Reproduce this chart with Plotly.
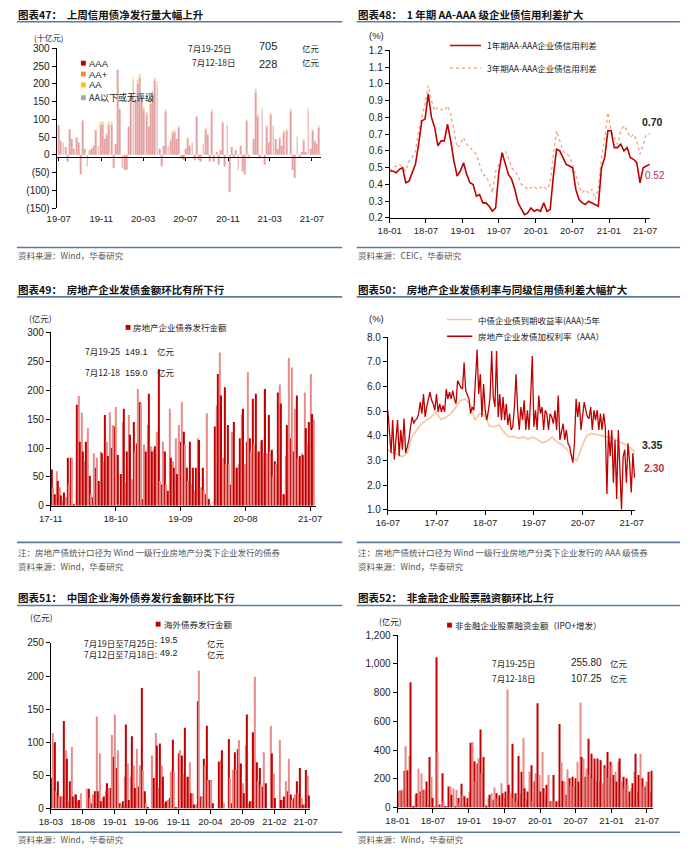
import pandas as pd
import plotly.graph_objects as go

W, H = 692, 852
def fx(x): return x / W
def fy(y): return 1 - y / H

FONT = "Liberation Sans, Arial, Noto Sans CJK SC, sans-serif"
CJK = "Noto Sans CJK SC, Liberation Sans, sans-serif"

# ---------------- data ----------------
# Chart 47: weekly net credit bond issuance (bn yuan)
aaa_47 = [85,40,35,22,-19,72,45,17,49,35,
          -55,97,17,-33,13,17,26,70,26,85,
          85,45,55,85,85,-37,31,240,130,-37,
          -42,-42,80,163,208,154,200,217,154,126,
          113,80,145,172,208,195,17,-33,26,122,
          26,40,63,63,45,76,-10,-15,17,45,
          26,35,-15,108,-15,-19,31,72,58,-19,
          122,-19,8,-28,13,90,-33,85,-105,22,
          -5,13,-42,26,-46,-55,95,-10,0,45,
          176,108,-10,126,-28,80,35,113,80,45,
          17,45,26,63,67,0,122,-42,-65,49,
          -10,8,40,8,126,17,67,40,31,76]
aa_47 = [0,0,0,0,0,0,0,0,0,0,
         0,0,0,0,0,0,0,0,0,8,
         8,0,6,8,8,0,0,0,0,0,
         0,0,0,10,12,10,12,10,10,8,
         8,0,10,10,10,12,0,0,0,6,
         0,5,6,6,0,6,0,0,0,5,
         0,0,0,0,0,0,0,5,0,0,
         6,0,0,0,0,5,0,0,0,0,
         0,0,0,0,0,0,5,0,0,0,
         10,6,0,8,0,5,0,6,5,0,
         0,5,0,5,5,0,8,0,0,5,
         0,0,5,0,8,0,5,0,0,6]
ticks_47 = ['2019-07-01','2019-11-01','2020-03-01','2020-07-01','2020-11-01','2021-03-01','2021-07-01']

# Chart 48: AA-AAA credit spreads (%)
spread_1y_48 = [0.48,0.48,0.47,0.49,0.50,0.41,0.42,0.47,0.52,0.64,
                0.78,0.79,0.94,0.80,0.74,0.63,0.66,0.66,0.76,0.66,
                0.54,0.45,0.48,0.53,0.46,0.41,0.40,0.33,0.34,0.29,
                0.29,0.27,0.24,0.26,0.47,0.59,0.52,0.46,0.43,0.37,
                0.29,0.25,0.22,0.23,0.26,0.24,0.25,0.24,0.29,0.24,
                0.25,0.45,0.61,0.60,0.56,0.52,0.51,0.50,0.37,0.31,
                0.29,0.28,0.30,0.29,0.28,0.27,0.50,0.56,0.72,0.72,
                0.62,0.62,0.64,0.60,0.62,0.56,0.55,0.53,0.41,0.50,
                0.51,0.52]
spread_3y_48 = [0.48,0.50,0.51,0.52,0.50,0.48,0.54,0.56,0.60,0.72,
                0.80,0.88,0.99,0.90,0.84,0.86,0.85,0.84,0.87,0.82,
                0.72,0.62,0.64,0.68,0.64,0.62,0.60,0.58,0.52,0.46,
                0.45,0.41,0.35,0.48,0.52,0.56,0.60,0.56,0.50,0.48,
                0.45,0.40,0.39,0.37,0.38,0.39,0.37,0.38,0.39,0.37,
                0.41,0.58,0.72,0.66,0.60,0.58,0.57,0.52,0.45,0.39,
                0.35,0.37,0.35,0.37,0.31,0.37,0.56,0.68,0.83,0.72,
                0.68,0.64,0.72,0.75,0.72,0.68,0.70,0.66,0.58,0.64,
                0.70,0.70]
ticks_48 = ['2018-01-01','2018-07-01','2019-01-01','2019-07-01','2020-01-01','2020-07-01','2021-01-01','2021-07-01']

# Chart 49: real-estate bond issuance (100m yuan)
re_issue_49 = [63,32,20,60,43,32,18,9,23,15,83,37,83,83,3,0,175,190,111,161,
               94,77,111,134,52,20,15,91,66,83,43,94,91,77,157,111,86,162,100,140,
               137,171,88,3,55,145,168,40,94,157,123,46,145,94,108,202,179,177,12,106,
               94,140,194,103,94,97,103,128,236,43,37,111,94,37,26,168,83,77,66,117,
               55,140,111,179,128,106,66,43,111,37,66,26,66,117,114,32,66,26,20,160,
               12,3,0,0,137,174,228,265,191,83,205,72,140,72,37,128,145,66,66,72,
               117,157,168,72,111,231,117,94,185,106,194,94,94,111,114,91,202,91,157,94,
               97,52,77,72,196,210,177,20,20,86,140,256,117,239,94,168,191,83,86,91,
               88,196,134,106,145,228,159,149.1]
ticks_49 = ['2017-11-01','2018-10-01','2019-09-01','2020-08-01','2021-07-01']

# Chart 50: yields (%)
yield_aaa5y_50 = [3.44,3.30,3.26,3.15,3.30,3.97,4.24,4.50,4.64,4.77,
                  4.97,4.66,4.75,4.90,5.15,5.44,5.50,5.30,4.64,4.90,
                  4.85,4.40,4.37,4.45,4.15,3.97,3.97,3.90,3.95,3.87,
                  3.95,3.84,3.72,3.80,3.95,3.75,3.65,3.45,3.20,2.97,
                  3.50,3.97,4.10,4.05,4.00,3.97,3.95,3.85,3.75,3.65,
                  3.55,3.35]
re_rate_50 = [5.04,3.97,3.30,4.64,3.04,3.84,4.64,3.17,4.24,3.44,4.70,
              3.30,3.60,3.84,4.37,4.77,4.50,4.64,4.70,4.90,5.37,4.90,5.70,4.77,5.20,5.44,
              5.77,5.44,5.30,5.04,5.70,4.97,5.30,4.97,5.24,4.97,5.90,5.50,5.77,5.50,5.84,5.50,
              5.30,6.24,6.10,5.97,5.90,6.97,5.84,5.64,5.50,4.90,5.17,5.04,6.24,7.50,5.70,6.50,
              4.77,6.10,5.04,4.64,5.04,5.57,7.44,5.57,5.17,7.44,4.77,5.70,4.64,5.57,4.64,5.30,
              4.44,4.90,4.24,4.37,5.17,6.50,5.04,4.24,5.17,4.64,5.44,4.24,5.04,4.24,5.57,7.24,
              4.37,5.04,4.24,5.64,4.90,5.17,4.24,5.04,4.90,4.24,4.90,4.77,4.50,5.04,4.24,5.64,
              3.84,4.24,4.50,3.84,4.24,3.70,3.57,3.24,2.91,3.70,5.50,4.77,5.37,4.24,4.90,5.37,
              5.04,4.77,4.70,5.17,4.24,5.04,4.64,5.04,4.24,4.90,4.24,4.90,4.37,1.64,4.24,3.17,
              4.24,2.10,3.84,1.44,4.24,2.64,1.00,3.17,3.44,2.10,3.70,2.91,1.70,3.30,2.30]
ticks_50 = ['2016-07-01','2017-07-01','2018-07-01','2019-07-01','2020-07-01','2021-07-01']

# Chart 51: overseas bond issuance (100m yuan)
overseas_51 = [46,114,100,26,41,18,18,18,132,88,75,11,41,93,18,21,21,11,13,23,
               0,0,0,30,30,16,8,21,26,139,26,83,11,16,18,26,38,31,31,111,
               78,142,61,88,8,6,11,48,127,68,13,48,109,65,31,90,33,65,182,58,
               26,8,1,0,0,80,46,114,95,31,98,65,48,8,11,13,16,56,104,56,
               1,0,83,88,80,52,122,48,48,70,23,23,6,6,162,208,18,18,75,65,
               125,43,43,43,8,0,0,0,71,73,88,8,0,0,105,46,8,58,85,58,
               90,103,68,38,23,95,142,8,11,11,115,199,70,41,61,36,33,85,38,0,
               0,125,83,53,16,0,0,104,13,13,18,41,26,75,21,13,16,21,41,23,
               61,16,6,6,58,49.2,19.5]
ticks_51 = ['2018-03-01','2018-08-01','2019-01-01','2019-06-01','2019-11-01','2020-04-01','2020-09-01','2021-02-01','2021-07-01']

# Chart 52: equity financing of non-financial firms (100m yuan)
equity_52 = [119,119,119,123,254,427,260,359,871,9,9,89,100,272,112,238,123,123,181,21,
             352,215,66,9,1045,386,21,9,238,43,9,9,146,146,89,135,9,123,66,32,
             165,89,78,32,66,112,450,455,322,181,306,341,542,238,352,21,9,66,89,100,
             55,139,100,66,85,169,100,66,112,821,158,100,443,66,100,43,359,100,249,482,
             135,55,112,249,295,43,181,238,725,226,112,386,135,89,158,226,43,43,226,43,
             43,43,581,313,185,181,89,267,203,158,215,146,203,318,181,729,352,341,215,272,
             478,226,375,203,341,181,341,181,329,169,295,272,386,203,318,295,226,249,181,318,
             341,181,215,135,203,158,112,135,169,249,375,112,226,375,203,146,146,181,249,107.25,
             255.80]
ticks_52 = ['2018-01-01','2018-07-01','2019-01-01','2019-07-01','2020-01-01','2020-07-01','2021-01-01','2021-07-01']

# ---------------- x positions (weekly observations) ----------------
d47 = pd.date_range('2019-07-01', '2021-07-22', periods=len(aaa_47))
d48 = pd.date_range('2018-01-01', '2021-07-23', periods=len(spread_1y_48))
d49 = pd.date_range('2017-11-06', '2021-07-21', periods=len(re_issue_49))
d50y = pd.date_range('2016-07-01', '2021-07-23', periods=len(yield_aaa5y_50))
d50r = pd.date_range('2016-07-01', '2021-07-23', periods=len(re_rate_50))
d51 = pd.date_range('2018-03-04', '2021-07-18', periods=len(overseas_51))
d52 = pd.date_range('2018-01-04', '2021-07-26', periods=len(equity_52))

def alt(n, c1='#C00000', c2='#E88A8A'):
    return [c1 if i % 2 == 0 else c2 for i in range(n)]

fig = go.Figure()

step47 = (d47[1] - d47[0]).total_seconds() * 1000
fig.add_trace(go.Bar(x=d47, y=aaa_47, width=step47 * 0.4, marker=dict(color='#E4A2A2', line_width=0),
                     xaxis='x', yaxis='y', name='AAA'))
fig.add_trace(go.Bar(x=d47, y=aa_47, width=step47 * 0.4, marker=dict(color='#F5D592', line_width=0),
                     xaxis='x', yaxis='y', name='AA'))

fig.add_trace(go.Scatter(x=d48, y=spread_3y_48, mode='lines', line=dict(color='#F0A07A', width=1.3, dash='dot'),
                         xaxis='x2', yaxis='y2'))
fig.add_trace(go.Scatter(x=d48, y=spread_1y_48, mode='lines', line=dict(color='#C00000', width=1.6),
                         xaxis='x2', yaxis='y2'))

fig.add_trace(go.Bar(x=d49, y=re_issue_49, marker=dict(color=alt(len(re_issue_49)), line_width=0),
                     xaxis='x3', yaxis='y3'))

fig.add_trace(go.Scatter(x=d50y, y=yield_aaa5y_50, mode='lines', line=dict(color='#F7C4A5', width=1.6),
                         xaxis='x4', yaxis='y4'))
fig.add_trace(go.Scatter(x=d50r, y=re_rate_50, mode='lines', line=dict(color='#C00000', width=1.3),
                         xaxis='x4', yaxis='y4'))

fig.add_trace(go.Bar(x=d51, y=overseas_51, marker=dict(color=alt(len(overseas_51)), line_width=0),
                     xaxis='x5', yaxis='y5'))

fig.add_trace(go.Bar(x=d52, y=equity_52, marker=dict(color=alt(len(equity_52)), line_width=0),
                     xaxis='x6', yaxis='y6'))

tickfont = dict(family=FONT, size=10, color='#222')
xtickfont = dict(family=FONT, size=9.5, color='#222')

def yax(d0, d1, rng, anchor, **kw):
    a = dict(domain=[fy(d0), fy(d1)], range=rng, anchor=anchor, showgrid=False, zeroline=False,
             showline=True, linecolor='#000', linewidth=1, ticks='outside', ticklen=4, tickcolor='#000',
             tickfont=tickfont, fixedrange=True)
    a.update(kw)
    return a

def xax(x0, x1, rng, anchor, tv, **kw):
    a = dict(domain=[fx(x0), fx(x1)], range=rng, anchor=anchor, type='date', showgrid=False, zeroline=False,
             showline=True, linecolor='#000', linewidth=1, ticks='outside', ticklen=4, tickcolor='#000',
             tickvals=tv, tickformat='%y-%m', tickfont=xtickfont, fixedrange=True)
    a.update(kw)
    return a

yv47 = [-150, -100, -50, 0, 50, 100, 150, 200, 250, 300]
yt47 = ['(150)', '(100)', '(50)', '0', '50', '100', '150', '200', '250', '300']

fig.update_layout(
    width=W, height=H, autosize=False, margin=dict(l=0, r=0, t=0, b=0),
    paper_bgcolor='white', plot_bgcolor='white', showlegend=False,
    barmode='relative', bargap=0.22,
    font=dict(family=FONT, size=10, color='#222'),
    xaxis=xax(46, 318, ['2019-06-25', '2021-07-27'], 'free', ticks_47, position=fy(153),
              ticklen=3, ticklabelstandoff=50),
    yaxis=yax(205, 43, [-150, 300], 'x', tickvals=yv47, ticktext=yt47),
    xaxis2=xax(389, 657, ['2018-01-01', '2021-07-25'], 'y2', ticks_48),
    yaxis2=yax(215, 45, [0.2, 1.2], 'x2', dtick=0.1, tickformat='.1f'),
    xaxis3=xax(40, 313, ['2017-11-01', '2021-07-31'], 'y3', ticks_49),
    yaxis3=yax(507, 331, [0, 300], 'x3', dtick=50),
    xaxis4=xax(387, 642, ['2016-07-01', '2021-07-30'], 'y4', ticks_50),
    yaxis4=yax(511, 336, [1, 8], 'x4', dtick=1, tickformat='.1f'),
    xaxis5=xax(40, 307, ['2018-03-01', '2021-07-22'], 'y5', ticks_51),
    yaxis5=yax(814, 646, [0, 250], 'x5', dtick=50),
    xaxis6=xax(397, 660, ['2018-01-01', '2021-08-01'], 'y6', ticks_52),
    yaxis6=yax(813, 638, [0, 1200], 'x6', dtick=200, tickformat=',d'),
)

def txt(x, y, s, size=9, color='#222', bold=False, xanchor='left', family=CJK):
    fig.add_annotation(x=fx(x), y=fy(y), xref='paper', yref='paper', text=('<b>%s</b>' % s) if bold else s,
                       showarrow=False, xanchor=xanchor, yanchor='middle', xshift=0, yshift=0,
                       font=dict(family=family, size=size, color=color))

def hline(x0, x1, y, color='#5B7B9C', width=1.6, dash=None):
    fig.add_shape(type='line', xref='paper', yref='paper', x0=fx(x0), x1=fx(x1), y0=fy(y), y1=fy(y),
                  line=dict(color=color, width=width, dash=dash))

def sq(x, y, color, s=5):
    fig.add_shape(type='rect', xref='paper', yref='paper', x0=fx(x), x1=fx(x + s), y0=fy(y + s / 2), y1=fy(y - s / 2),
                  line_width=0, fillcolor=color)

SRC = '#555'
# ---- panel 47 ----
txt(4, 9, '图表47：  上周信用债净发行量大幅上升', size=10.5, bold=True, color='#111')
hline(5, 340, 16)
txt(21, 32, '(十亿元)', size=8)
txt(179, 43, '7月19-25日', size=8.5)
txt(252, 41, '705', size=11, family=FONT)
txt(297, 43, '亿元', size=8.5)
txt(183, 57, '7月12-18日', size=8.5)
txt(252, 59, '228', size=11, family=FONT)
txt(297, 57, '亿元', size=8.5)
sq(71, 58, '#C00000'); txt(77, 58, 'AAA', size=9.5, family=FONT)
sq(71, 69, '#F08A3C'); txt(77, 69, 'AA+', size=9.5, family=FONT)
sq(71, 80, '#FFC000'); txt(77, 80, 'AA', size=9.5, family=FONT)
sq(71, 93, '#A6A6A6'); txt(77, 93, 'AA以下或无评级', size=9)
hline(5, 340, 245)
txt(4, 253, '资料来源：Wind，华泰研究', size=8.5, color=SRC)

# ---- panel 48 ----
txt(354, 9, '图表48：  1 年期 AA-AAA 级企业债信用利差扩大', size=10.5, bold=True, color='#111')
hline(355, 688, 16)
txt(366, 30, '(%)', size=9.5, family=FONT)
hline(451, 483, 40, color='#C00000', width=1.6)
txt(487, 40, '1年期AA-AAA企业债信用利差', size=8.5)
hline(451, 483, 63, color='#F0A07A', width=1.3, dash='dot')
txt(487, 63, '3年期AA-AAA企业债信用利差', size=8.5)
txt(647, 118, '0.70', size=10.5, bold=True, family=FONT, color='#222')
txt(650, 172, '0.52', size=10, family=FONT, color='#C0304A')
hline(355, 688, 245)
txt(354, 253, '资料来源：CEIC，华泰研究', size=8.5, color=SRC)

# ---- panel 49 ----
txt(4, 288, '图表49：  房地产企业发债金额环比有所下行', size=10.5, bold=True, color='#111')
hline(5, 340, 295)
txt(15, 316, '(亿元)', size=8.5)
sq(117, 326, '#C00000'); txt(123, 326, '房地产企业债券发行金额', size=8.5)
txt(73, 350, '7月19-25', size=8.5)
txt(114, 351, '149.1', size=9, family=FONT)
txt(147, 350, '亿元', size=8.5)
txt(73, 371, '7月12-18', size=8.5)
txt(114, 372, '159.0', size=9, family=FONT)
txt(147, 371, '亿元', size=8.5)
hline(5, 340, 544)
txt(4, 554, '注：房地产债统计口径为 Wind 一级行业房地产分类下企业发行的债券', size=8.5, color=SRC)
txt(4, 568, '资料来源：Wind，华泰研究', size=8.5, color=SRC)

# ---- panel 50 ----
txt(354, 288, '图表50：  房地产企业发债利率与同级信用债利差大幅扩大', size=10.5, bold=True, color='#111')
hline(355, 688, 295)
txt(366, 317, '(%)', size=9.5, family=FONT)
hline(448, 474, 318, color='#F7C4A5', width=1.6)
txt(478, 318, '中债企业债到期收益率(AAA):5年', size=8.5)
hline(448, 474, 335, color='#C00000', width=1.6)
txt(478, 335, '房地产企业发债加权利率（AAA）', size=8.5)
txt(647, 445, '3.35', size=10.5, bold=True, family=FONT, color='#222')
txt(649, 469, '2.30', size=10.5, bold=True, family=FONT, color='#C0304A')
hline(355, 688, 544)
txt(354, 554, '注：房地产债统计口径为 Wind 一级行业房地产分类下企业发行的 AAA 级债券', size=8.5, color=SRC)
txt(354, 568, '资料来源：Wind，华泰研究', size=8.5, color=SRC)

# ---- panel 51 ----
txt(4, 600, '图表51：  中国企业海外债券发行金额环比下行', size=10.5, bold=True, color='#111')
hline(5, 340, 608)
txt(16, 620, '(亿元)', size=8.5)
sq(148, 627, '#C00000'); txt(154, 627, '海外债券发行金额', size=8.5)
txt(72, 646, '7月19日至7月25日:', size=8.5)
txt(150, 643, '19.5', size=9, family=FONT)
txt(199, 646, '亿元', size=8.5)
txt(72, 657, '7月12日至7月18日:', size=8.5)
txt(150, 656, '49.2', size=9, family=FONT)
txt(199, 657, '亿元', size=8.5)
hline(5, 340, 838)
txt(4, 845, '资料来源：Wind，华泰研究', size=8.5, color=SRC)

# ---- panel 52 ----
txt(354, 600, '图表52：  非金融企业股票融资额环比上行', size=10.5, bold=True, color='#111')
hline(355, 688, 608)
txt(376, 624, '(亿元)', size=8.5)
sq(448, 628, '#C00000'); txt(454, 628, '非金融企业股票融资金额（IPO+增发）', size=8.5)
txt(492, 666, '7月19-25日', size=8.5)
txt(574, 666, '255.80', size=10, family=FONT)
txt(614, 666, '亿元', size=8.5)
txt(492, 682, '7月12-18日', size=8.5)
txt(574, 682, '107.25', size=10, family=FONT)
txt(614, 682, '亿元', size=8.5)
hline(355, 688, 838)
txt(354, 845, '资料来源：Wind，华泰研究', size=8.5, color=SRC)

fig.write_html("out.html",
               config={'displayModeBar': False, 'staticPlot': False},
               post_script="document.body.style.margin='0px';document.body.style.overflow='hidden';")
